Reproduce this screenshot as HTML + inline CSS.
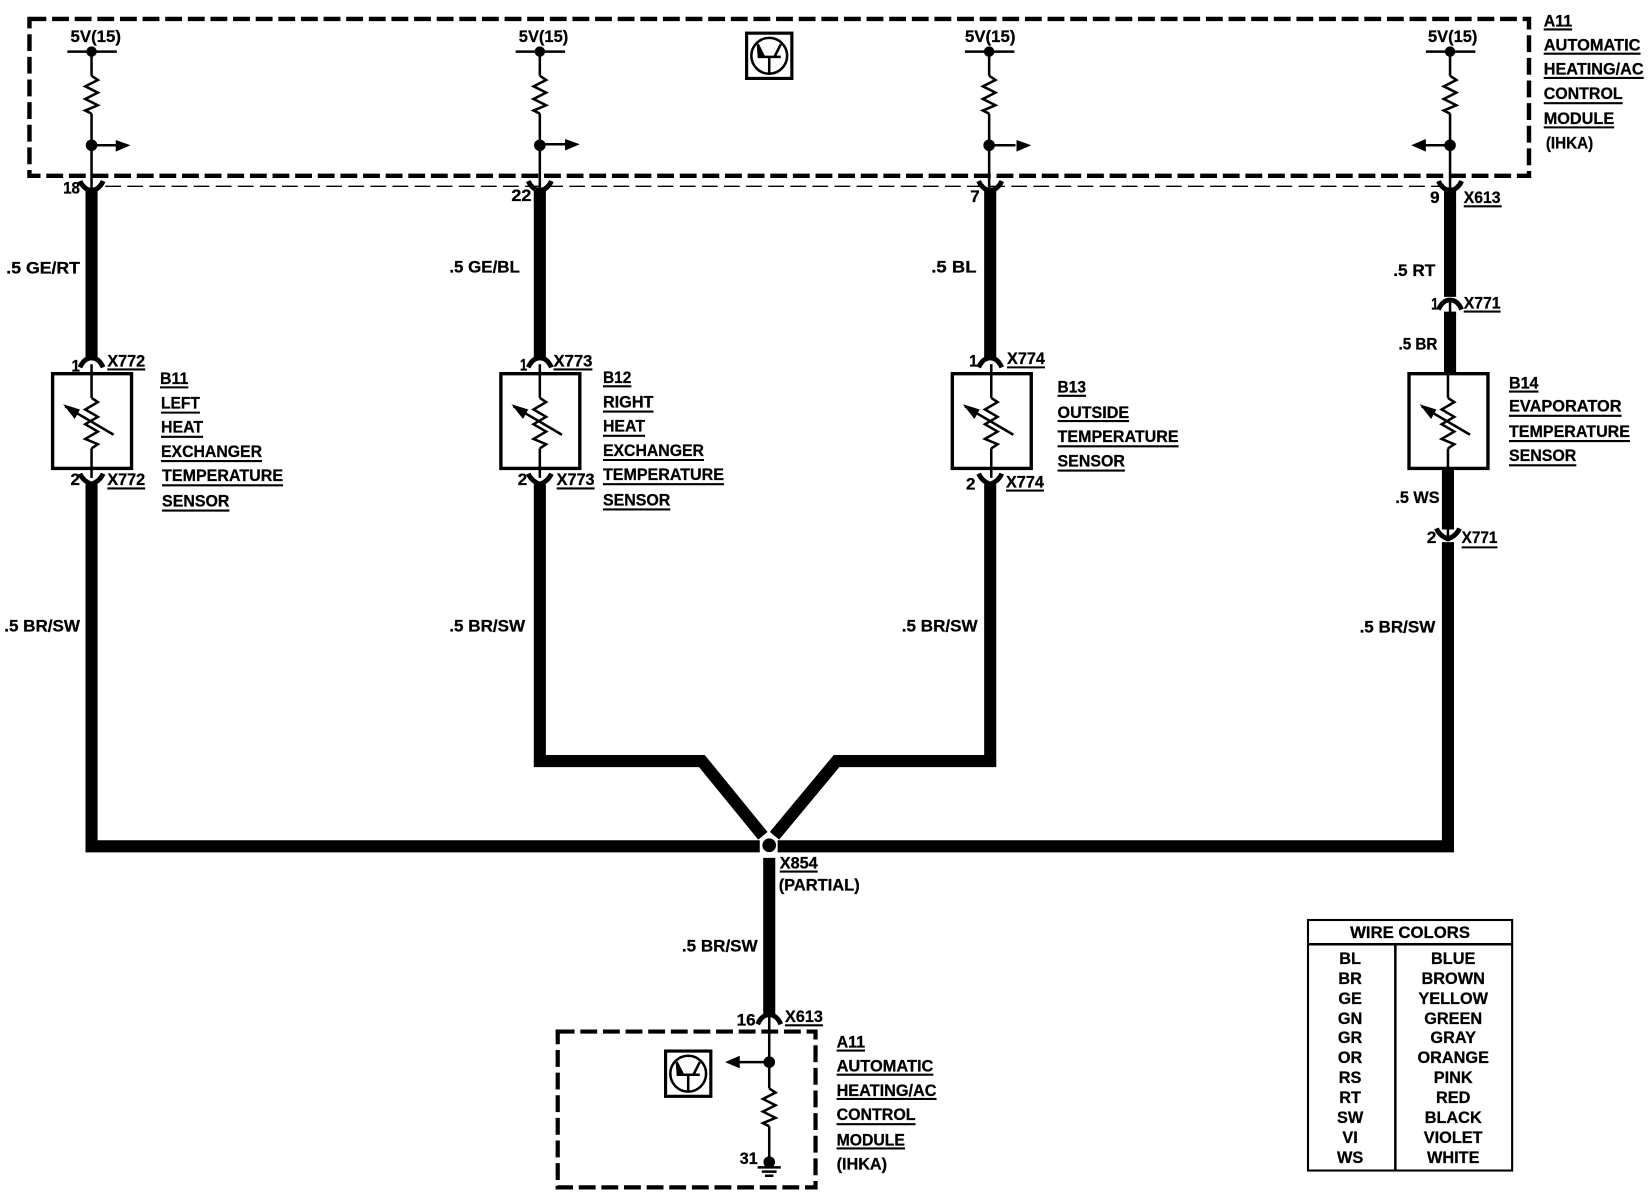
<!DOCTYPE html>
<html><head><meta charset="utf-8"><title>Wiring diagram</title>
<style>
html,body{margin:0;padding:0;background:#fff}
svg{display:block;width:1650px;height:1200px}
text{font-family:"Liberation Sans",sans-serif;font-weight:bold;font-size:15.5px;fill:#000;stroke:#000;stroke-width:.25}
.u{stroke:#000;stroke-width:2;fill:none}
.t{stroke:#000;stroke-width:2.4;fill:none}
.w{stroke:#000;stroke-width:11.5;fill:none;stroke-linejoin:miter}
.f{stroke:#000;stroke-width:4.6;fill:none}
</style></head><body>
<svg viewBox="0 0 1568 1140" preserveAspectRatio="none" xmlns="http://www.w3.org/2000/svg">
<defs>
<path id="zig" d="M0,0 L6,4 L-6,10 L6,16 L-6,22 L6,28 L-6,33 L0,36" class="t"/>
<g id="sup">
<line x1="-23" y1="49" x2="24" y2="49" class="t"/>
<circle cx="0" cy="49" r="5"/>
<line x1="0" y1="49" x2="0" y2="72" class="t"/>
<use href="#zig" y="72"/>
<line x1="0" y1="108" x2="0" y2="178" class="t"/>
<circle cx="0" cy="138" r="5.5"/>
</g>
<g id="sens">
<rect x="-37" y="355" width="75" height="90" fill="#fff" stroke="#000" stroke-width="3.2"/>
<line x1="0" y1="346" x2="0" y2="378" class="t"/>
<path d="M0,378 L6,382 L-6,389 L6,396 L-6,403 L6,410 L-6,417 L6,422 L0,426" class="t"/>
<line x1="0" y1="426" x2="0" y2="454" class="t"/>
<line x1="-25" y1="386" x2="21" y2="413" class="t"/>
<path d="M-27,384 L-11,389 L-16,398 Z"/>
</g>
<path id="fk" d="M-11,-6 Q-8,1 0,4 Q8,1 11,-6" class="f"/>
<path id="ar" d="M-11,6 Q-7,-3 0,-3 Q7,-3 11,6" class="f"/>
<g id="tr">
<rect x="1.5" y="1.5" width="43" height="43" fill="#fff" stroke="#000" stroke-width="3"/>
<circle cx="23" cy="23" r="17" fill="none" stroke="#000" stroke-width="2.4"/>
<path d="M12,24 H34 M23,24 V39 M18,24 L12,12 M28,24 L34,12" class="t"/>
<path d="M11,11 L18,23 L12,24 Z"/>
</g>
</defs>

<!-- top module -->
<rect x="28" y="18" width="1425" height="149" fill="none" stroke="#000" stroke-width="4.2" stroke-dasharray="16 5.5"/>
<line x1="100" y1="177" x2="1370" y2="177" stroke="#000" stroke-width="1.4" stroke-dasharray="15 6"/>
<use href="#tr" x="708" y="30"/>

<use href="#sup" x="87"/>
<use href="#sup" x="513"/>
<use href="#sup" x="940"/>
<use href="#sup" x="1378"/>
<path d="M87,138 H112 M513,137 H538 M940,138 H965 M1378,138 H1352" class="t"/>
<path d="M110,133 L124,138 L110,144 Z M537,132 L551,137 L537,143 Z M966,133 L980,138 L966,144 Z M1355,132 L1341,138 L1355,144 Z"/>

<text x="67" y="40" textLength="48" lengthAdjust="spacingAndGlyphs">5V(15)</text>
<text x="493" y="40" textLength="47" lengthAdjust="spacingAndGlyphs">5V(15)</text>
<text x="917" y="40" textLength="48" lengthAdjust="spacingAndGlyphs">5V(15)</text>
<text x="1357" y="40" textLength="47" lengthAdjust="spacingAndGlyphs">5V(15)</text>

<!-- A11 top label -->
<text x="1467" y="25" textLength="27" lengthAdjust="spacingAndGlyphs">A11</text><line x1="1467" y1="28" x2="1494" y2="28" class="u"/>
<text x="1467" y="48" textLength="92" lengthAdjust="spacingAndGlyphs">AUTOMATIC</text><line x1="1467" y1="51" x2="1559" y2="51" class="u"/>
<text x="1467" y="71" textLength="95" lengthAdjust="spacingAndGlyphs">HEATING/AC</text><line x1="1467" y1="74" x2="1562" y2="74" class="u"/>
<text x="1467" y="94" textLength="75" lengthAdjust="spacingAndGlyphs">CONTROL</text><line x1="1467" y1="98" x2="1542" y2="98" class="u"/>
<text x="1467" y="118" textLength="67" lengthAdjust="spacingAndGlyphs">MODULE</text><line x1="1467" y1="121" x2="1534" y2="121" class="u"/>
<text x="1469" y="141" textLength="45" lengthAdjust="spacingAndGlyphs">(IHKA)</text>

<!-- thick wires -->
<path class="w" d="M87,178 V340"/>
<path class="w" d="M513,178 V340"/>
<path class="w" d="M941,178 V340"/>
<path class="w" d="M1378,178 V282"/>
<path class="w" d="M1378,296 V355"/>
<path class="w" d="M1376,445 V503"/>
<path class="w" d="M87,460 V804 H722"/>
<path class="w" d="M739,804 H1376 V515"/>
<path class="w" d="M513,460 V723 H667 L725,794"/>
<path class="w" d="M941,460 V723 H795 L736,794"/>
<path class="w" d="M731,815 V964"/>
<circle cx="731" cy="803" r="6.5"/>

<!-- connectors top -->
<use href="#fk" x="87" y="178"/><use href="#fk" x="513" y="178"/><use href="#fk" x="941" y="178"/><use href="#fk" x="1378" y="178"/>
<!-- sensor arches -->
<use href="#ar" x="87" y="343"/><use href="#ar" x="513" y="343"/><use href="#ar" x="941" y="343"/>
<use href="#fk" x="87" y="456"/><use href="#fk" x="513" y="456"/><use href="#fk" x="941" y="456"/>
<use href="#ar" x="1378" y="288"/>
<use href="#fk" x="1376" y="508"/>
<line x1="1378" y1="286" x2="1378" y2="300" class="t"/>
<line x1="1376" y1="500" x2="1376" y2="514" class="t"/>

<use href="#sens" x="87"/>
<use href="#sens" x="513"/>
<use href="#sens" x="942"/>
<use href="#sens" x="1376"/>

<!-- pin labels -->
<text x="60" y="184" textLength="16" lengthAdjust="spacingAndGlyphs">18</text>
<text x="486" y="191" textLength="19" lengthAdjust="spacingAndGlyphs">22</text>
<text x="922" y="192" textLength="9" lengthAdjust="spacingAndGlyphs">7</text>
<text x="1359" y="193" textLength="9" lengthAdjust="spacingAndGlyphs">9</text>
<text x="1391" y="193" textLength="35" lengthAdjust="spacingAndGlyphs">X613</text><line x1="1391" y1="196" x2="1427" y2="196" class="u"/>
<text x="1391" y="293" textLength="35" lengthAdjust="spacingAndGlyphs">X771</text><line x1="1391" y1="296" x2="1426" y2="296" class="u"/>
<text x="1360" y="294" textLength="7" lengthAdjust="spacingAndGlyphs">1</text>
<text x="1356" y="516" textLength="9" lengthAdjust="spacingAndGlyphs">2</text>
<text x="1389" y="516" textLength="34" lengthAdjust="spacingAndGlyphs">X771</text><line x1="1389" y1="520" x2="1423" y2="520" class="u"/>

<text x="68" y="353" textLength="8" lengthAdjust="spacingAndGlyphs">1</text>
<text x="102" y="348" textLength="36" lengthAdjust="spacingAndGlyphs">X772</text><line x1="102" y1="351" x2="138" y2="351" class="u"/>
<text x="67" y="461" textLength="9" lengthAdjust="spacingAndGlyphs">2</text>
<text x="102" y="461" textLength="36" lengthAdjust="spacingAndGlyphs">X772</text><line x1="102" y1="464" x2="138" y2="464" class="u"/>

<text x="494" y="352" textLength="7" lengthAdjust="spacingAndGlyphs">1</text>
<text x="526" y="348" textLength="37" lengthAdjust="spacingAndGlyphs">X773</text><line x1="526" y1="351" x2="563" y2="351" class="u"/>
<text x="492" y="461" textLength="9" lengthAdjust="spacingAndGlyphs">2</text>
<text x="529" y="461" textLength="36" lengthAdjust="spacingAndGlyphs">X773</text><line x1="529" y1="464" x2="565" y2="464" class="u"/>

<text x="921" y="348" textLength="8" lengthAdjust="spacingAndGlyphs">1</text>
<text x="957" y="346" textLength="36" lengthAdjust="spacingAndGlyphs">X774</text><line x1="957" y1="349" x2="993" y2="349" class="u"/>
<text x="918" y="465" textLength="9" lengthAdjust="spacingAndGlyphs">2</text>
<text x="956" y="463" textLength="36" lengthAdjust="spacingAndGlyphs">X774</text><line x1="956" y1="466" x2="992" y2="466" class="u"/>

<!-- wire labels -->
<text x="6" y="260" textLength="70" lengthAdjust="spacingAndGlyphs">.5  GE/RT</text>
<text x="427" y="259" textLength="67" lengthAdjust="spacingAndGlyphs">.5  GE/BL</text>
<text x="885" y="259" textLength="43" lengthAdjust="spacingAndGlyphs">.5  BL</text>
<text x="1324" y="262" textLength="40" lengthAdjust="spacingAndGlyphs">.5  RT</text>
<text x="1329" y="332" textLength="37" lengthAdjust="spacingAndGlyphs">.5 BR</text>
<text x="1326" y="478" textLength="42" lengthAdjust="spacingAndGlyphs">.5 WS</text>
<text x="4" y="600" textLength="72" lengthAdjust="spacingAndGlyphs">.5  BR/SW</text>
<text x="427" y="600" textLength="72" lengthAdjust="spacingAndGlyphs">.5  BR/SW</text>
<text x="857" y="600" textLength="72" lengthAdjust="spacingAndGlyphs">.5  BR/SW</text>
<text x="1292" y="601" textLength="72" lengthAdjust="spacingAndGlyphs">.5  BR/SW</text>
<text x="648" y="904" textLength="72" lengthAdjust="spacingAndGlyphs">.5  BR/SW</text>

<text x="741" y="825" textLength="36" lengthAdjust="spacingAndGlyphs">X854</text><line x1="741" y1="828" x2="777" y2="828" class="u"/>
<text x="740" y="846" textLength="77" lengthAdjust="spacingAndGlyphs">(PARTIAL)</text>

<!-- sensor labels -->
<text x="152" y="365" textLength="27" lengthAdjust="spacingAndGlyphs">B11</text><line x1="152" y1="368" x2="179" y2="368" class="u"/>
<text x="153" y="388" textLength="37" lengthAdjust="spacingAndGlyphs">LEFT</text><line x1="153" y1="392" x2="190" y2="392" class="u"/>
<text x="153" y="411" textLength="40" lengthAdjust="spacingAndGlyphs">HEAT</text><line x1="153" y1="415" x2="193" y2="415" class="u"/>
<text x="153" y="434" textLength="96" lengthAdjust="spacingAndGlyphs">EXCHANGER</text><line x1="153" y1="438" x2="249" y2="438" class="u"/>
<text x="154" y="457" textLength="115" lengthAdjust="spacingAndGlyphs">TEMPERATURE</text><line x1="154" y1="461" x2="269" y2="461" class="u"/>
<text x="154" y="481" textLength="64" lengthAdjust="spacingAndGlyphs">SENSOR</text><line x1="154" y1="485" x2="218" y2="485" class="u"/>

<text x="573" y="364" textLength="27" lengthAdjust="spacingAndGlyphs">B12</text><line x1="573" y1="367" x2="600" y2="367" class="u"/>
<text x="573" y="387" textLength="48" lengthAdjust="spacingAndGlyphs">RIGHT</text><line x1="573" y1="391" x2="621" y2="391" class="u"/>
<text x="573" y="410" textLength="40" lengthAdjust="spacingAndGlyphs">HEAT</text><line x1="573" y1="414" x2="613" y2="414" class="u"/>
<text x="573" y="433" textLength="96" lengthAdjust="spacingAndGlyphs">EXCHANGER</text><line x1="573" y1="437" x2="669" y2="437" class="u"/>
<text x="573" y="456" textLength="115" lengthAdjust="spacingAndGlyphs">TEMPERATURE</text><line x1="573" y1="460" x2="688" y2="460" class="u"/>
<text x="573" y="480" textLength="64" lengthAdjust="spacingAndGlyphs">SENSOR</text><line x1="573" y1="484" x2="637" y2="484" class="u"/>

<text x="1005" y="373" textLength="27" lengthAdjust="spacingAndGlyphs">B13</text><line x1="1005" y1="376" x2="1032" y2="376" class="u"/>
<text x="1005" y="397" textLength="68" lengthAdjust="spacingAndGlyphs">OUTSIDE</text><line x1="1005" y1="400" x2="1073" y2="400" class="u"/>
<text x="1005" y="420" textLength="115" lengthAdjust="spacingAndGlyphs">TEMPERATURE</text><line x1="1005" y1="424" x2="1120" y2="424" class="u"/>
<text x="1005" y="443" textLength="64" lengthAdjust="spacingAndGlyphs">SENSOR</text><line x1="1005" y1="447" x2="1069" y2="447" class="u"/>

<text x="1434" y="369" textLength="28" lengthAdjust="spacingAndGlyphs">B14</text><line x1="1434" y1="372" x2="1462" y2="372" class="u"/>
<text x="1434" y="391" textLength="107" lengthAdjust="spacingAndGlyphs">EVAPORATOR</text><line x1="1434" y1="395" x2="1541" y2="395" class="u"/>
<text x="1434" y="415" textLength="115" lengthAdjust="spacingAndGlyphs">TEMPERATURE</text><line x1="1434" y1="419" x2="1549" y2="419" class="u"/>
<text x="1434" y="438" textLength="64" lengthAdjust="spacingAndGlyphs">SENSOR</text><line x1="1434" y1="442" x2="1498" y2="442" class="u"/>

<!-- bottom module -->
<rect x="530" y="980" width="245" height="148" fill="none" stroke="#000" stroke-width="4" stroke-dasharray="16 5.5"/>
<use href="#ar" x="731" y="967"/>
<line x1="731" y1="966" x2="731" y2="1034" class="t"/>
<circle cx="731" cy="1009" r="5.5"/>
<line x1="731" y1="1009" x2="700" y2="1009" class="t"/>
<path d="M703,1003 L689,1009 L703,1015 Z"/>
<use href="#zig" x="731" y="1034"/>
<path d="M731,1034 L731,1070 M731,1070 L731,1102" class="t" stroke-opacity="0"/>
<line x1="731" y1="1070" x2="731" y2="1102" class="t"/>
<circle cx="731" cy="1104" r="5.5"/>
<path d="M720,1109 H742 M724,1113 H738 M727,1117 H735" class="t"/>
<use href="#tr" x="631" y="997"/>
<text x="700" y="974" textLength="18" lengthAdjust="spacingAndGlyphs">16</text>
<text x="746" y="971" textLength="36" lengthAdjust="spacingAndGlyphs">X613</text><line x1="746" y1="974" x2="782" y2="974" class="u"/>
<text x="703" y="1106" textLength="17" lengthAdjust="spacingAndGlyphs">31</text>

<text x="795" y="995" textLength="27" lengthAdjust="spacingAndGlyphs">A11</text><line x1="795" y1="998" x2="822" y2="998" class="u"/>
<text x="795" y="1018" textLength="92" lengthAdjust="spacingAndGlyphs">AUTOMATIC</text><line x1="795" y1="1021" x2="887" y2="1021" class="u"/>
<text x="795" y="1041" textLength="95" lengthAdjust="spacingAndGlyphs">HEATING/AC</text><line x1="795" y1="1044" x2="890" y2="1044" class="u"/>
<text x="795" y="1064" textLength="75" lengthAdjust="spacingAndGlyphs">CONTROL</text><line x1="795" y1="1068" x2="870" y2="1068" class="u"/>
<text x="795" y="1088" textLength="65" lengthAdjust="spacingAndGlyphs">MODULE</text><line x1="795" y1="1091" x2="860" y2="1091" class="u"/>
<text x="795" y="1111" textLength="48" lengthAdjust="spacingAndGlyphs">(IHKA)</text>

<!-- table -->
<rect x="1243" y="874" width="194" height="238" fill="#fff" stroke="#000" stroke-width="2"/>
<line x1="1243" y1="897" x2="1437" y2="897" class="t"/>
<line x1="1326" y1="897" x2="1326" y2="1112" class="t"/>
<text x="1283" y="891" textLength="114" lengthAdjust="spacingAndGlyphs">WIRE COLORS</text>
<g text-anchor="middle">
<text x="1283" y="916">BL</text><text x="1381" y="916">BLUE</text>
<text x="1283" y="935">BR</text><text x="1381" y="935">BROWN</text>
<text x="1283" y="954">GE</text><text x="1381" y="954">YELLOW</text>
<text x="1283" y="973">GN</text><text x="1381" y="973">GREEN</text>
<text x="1283" y="991">GR</text><text x="1381" y="991">GRAY</text>
<text x="1283" y="1010">OR</text><text x="1381" y="1010">ORANGE</text>
<text x="1283" y="1029">RS</text><text x="1381" y="1029">PINK</text>
<text x="1283" y="1048">RT</text><text x="1381" y="1048">RED</text>
<text x="1283" y="1067">SW</text><text x="1381" y="1067">BLACK</text>
<text x="1283" y="1086">VI</text><text x="1381" y="1086">VIOLET</text>
<text x="1283" y="1105">WS</text><text x="1381" y="1105">WHITE</text>
</g>
</svg>
</body></html>
